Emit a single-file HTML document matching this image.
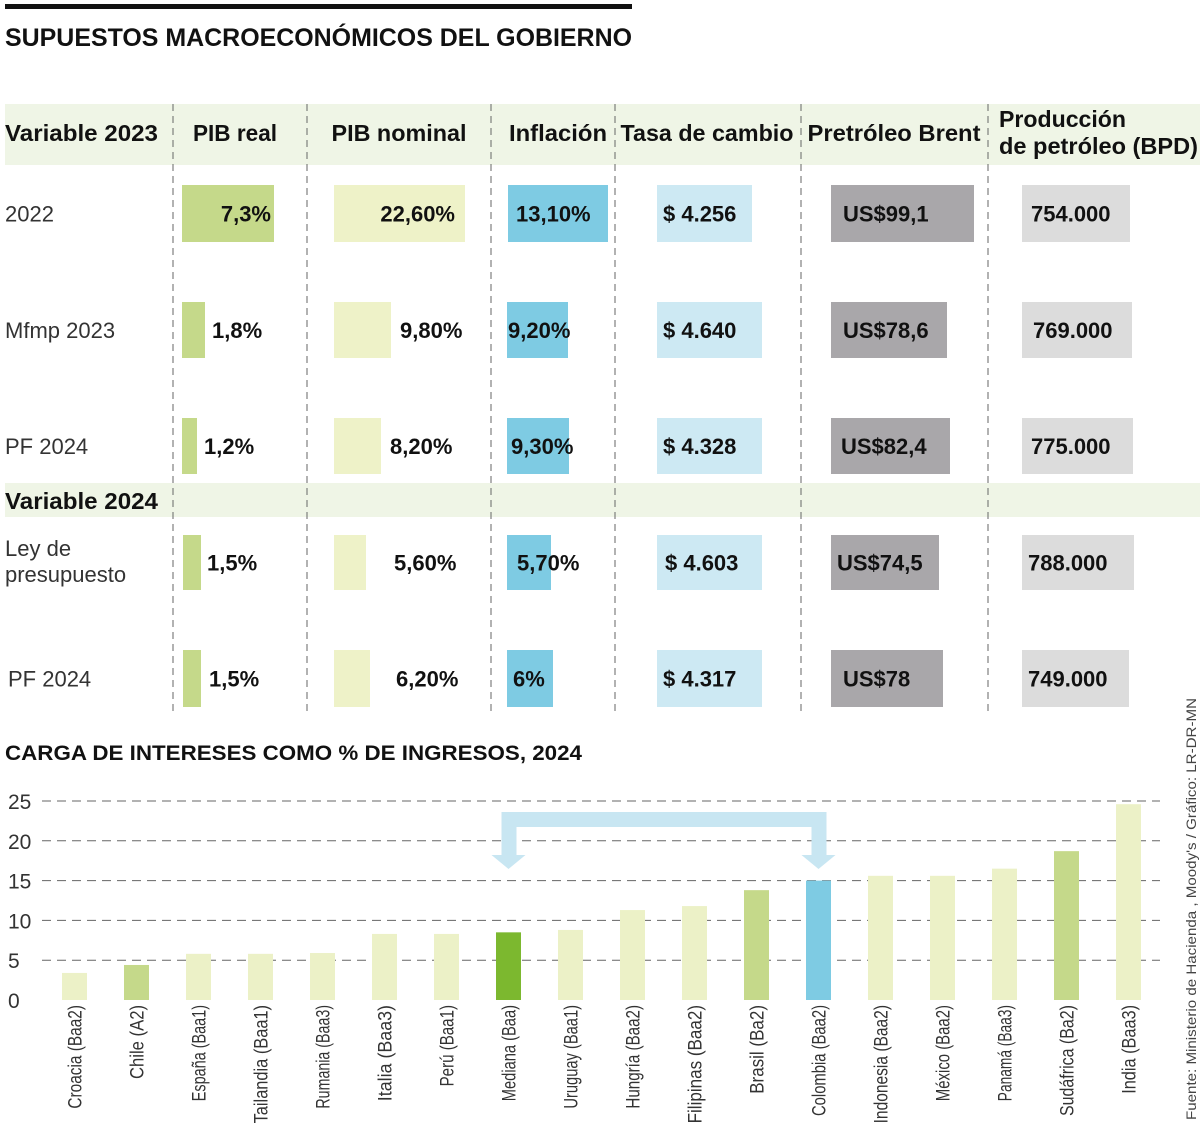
<!DOCTYPE html>
<html><head><meta charset="utf-8">
<style>
html,body{margin:0;padding:0;background:#fff;}
svg{display:block;font-family:"Liberation Sans",sans-serif;}
.b{font-weight:bold;fill:#111;}
.l{fill:#333;}
</style></head>
<body>
<svg id="s" width="1200" height="1124" viewBox="0 0 1200 1124" xmlns="http://www.w3.org/2000/svg">
<rect x="5" y="4" width="627" height="5" fill="#111"/>
<text x="5" y="46" class="b" font-size="25" textLength="627" lengthAdjust="spacingAndGlyphs">SUPUESTOS MACROECONÓMICOS DEL GOBIERNO</text>
<rect x="5" y="104" width="1195" height="61" fill="#eff5e6"/>
<rect x="5" y="483" width="1195" height="34" fill="#eff5e6"/>
<g id="tbl"></g>
<text x="5" y="760" class="b" font-size="21" textLength="577" lengthAdjust="spacingAndGlyphs">CARGA DE INTERESES COMO % DE INGRESOS, 2024</text>
<g id="chart"></g>
<text transform="translate(1196,1120) rotate(-90)" font-size="14" fill="#444" textLength="422" lengthAdjust="spacingAndGlyphs">Fuente: Ministerio de Hacienda , Moody's / Gráfico: LR-DR-MN</text>
</svg>
<script>
const NS="http://www.w3.org/2000/svg";
function mk(parent,tag,attrs,txt){const e=document.createElementNS(NS,tag);for(const k in attrs)e.setAttribute(k,attrs[k]);if(txt!==undefined)e.textContent=txt;parent.appendChild(e);return e;}

// ---------- Table ----------
const tbl=document.getElementById('tbl');
const dividers=[173,307,491,615,801,988];
dividers.forEach(x=>{
  const d=mk(tbl,'line',{x1:x,y1:104,x2:x,y2:712,stroke:'#666','stroke-width':1,'stroke-dasharray':'7,5'});
  
  
});
const headers=[["Variable 2023",5,141,"start",153],["PIB real",235,141,"middle",84],["PIB nominal",399,141,"middle",135],["Inflación",558,141,"middle",98],["Tasa de cambio",707,141,"middle",173],["Pretróleo Brent",894,141,"middle",173]];
headers.forEach(h=>{
  const t=mk(tbl,'text',{x:h[1],y:h[2],'font-size':23,'text-anchor':h[3],class:'b',textLength:h[4],lengthAdjust:'spacingAndGlyphs'},h[0]);
  
  
});
let t=mk(tbl,'text',{x:999,y:127,'font-size':23,class:'b',textLength:127,lengthAdjust:'spacingAndGlyphs'},"Producción");

t=mk(tbl,'text',{x:999,y:154,'font-size':23,class:'b',textLength:199,lengthAdjust:'spacingAndGlyphs'},"de petróleo (BPD)");

t=mk(tbl,'text',{x:5,y:509,'font-size':23,class:'b',textLength:153,lengthAdjust:'spacingAndGlyphs'},"Variable 2024");


const rowLabels=["2022","Mfmp 2023","PF 2024","","PF 2024"];
const rowY=[185,302,418,535,650];
const rowH=[57,56,56,55,57];
const colColors=['#c5d98a','#eef2c8','#7ecbe3','#cde9f3','#a9a7aa','#dcdcdc'];
const cells=[
 [[182,274,"7,3%",271,"end"],[334,465,"22,60%",455,"end"],[508,608,"13,10%",516,"start"],[657,752,"$ 4.256",663,"start"],[831,974,"US$99,1",843,"start"],[1022,1130,"754.000",1031,"start"]],
 [[182,205,"1,8%",212,"start"],[334,391,"9,80%",400,"start"],[507,568,"9,20%",508,"start"],[657,762,"$ 4.640",663,"start"],[831,947,"US$78,6",843,"start"],[1022,1132,"769.000",1033,"start"]],
 [[182,197,"1,2%",204,"start"],[334,381,"8,20%",390,"start"],[507,569,"9,30%",511,"start"],[657,762,"$ 4.328",663,"start"],[831,950,"US$82,4",841,"start"],[1022,1133,"775.000",1031,"start"]],
 [[183,201,"1,5%",207,"start"],[334,366,"5,60%",394,"start"],[507,551,"5,70%",517,"start"],[657,762,"$ 4.603",665,"start"],[831,939,"US$74,5",837,"start"],[1022,1134,"788.000",1028,"start"]],
 [[183,201,"1,5%",209,"start"],[334,370,"6,20%",396,"start"],[507,553,"6%",513,"start"],[657,762,"$ 4.317",663,"start"],[831,943,"US$78",843,"start"],[1022,1129,"749.000",1028,"start"]]
];
rowY.forEach((y,r)=>{
  if(rowLabels[r]){
    const lb=mk(tbl,'text',{x:r===4?8:5,y:y+rowH[r]/2+8,'font-size':22,class:'l'},rowLabels[r]);
    
  }
  cells[r].forEach((c,i)=>{
    const rc=mk(tbl,'rect',{x:c[0],y:y,width:c[1]-c[0],height:rowH[r],fill:colColors[i]});
    
    const tx=mk(tbl,'text',{x:c[3],y:y+rowH[r]/2+8,'font-size':22,class:'b','text-anchor':c[4]},c[2]);
    
  });
});
t=mk(tbl,'text',{x:5,y:556,'font-size':22,class:'l'},"Ley de");

t=mk(tbl,'text',{x:5,y:582,'font-size':22,class:'l'},"presupuesto");


// ---------- Bar chart ----------
const categories=["Croacia (Baa2)","Chile (A2)","España (Baa1)","Tailandia (Baa1)","Rumania (Baa3)","Italia (Baa3)","Perú (Baa1)","Mediana (Baa)","Uruguay (Baa1)","Hungría (Baa2)","Filipinas (Baa2)","Brasil (Ba2)","Colombia (Baa2)","Indonesia (Baa2)","México (Baa2)","Panamá (Baa3)","Sudáfrica (Ba2)","India (Baa3)"];
const values=[3.4,4.4,5.8,5.8,5.9,8.3,8.3,8.5,8.8,11.3,11.8,13.8,15.0,15.6,15.6,16.5,18.7,24.6];
const barKinds=["light","mid","light","light","light","light","light","median","light","light","light","mid","colombia","light","light","light","mid","light"];
const yTicks=[0,5,10,15,20,25];

const chart=document.getElementById('chart');
const kindColor={light:'#ecf1c7',mid:'#c5d98a',median:'#7cb82f',colombia:'#7ecbe3'};
const y0=1000,pxPerUnit=(1000-801)/25;
const yS=v=>y0-v*pxPerUnit;
const xS=i=>74.5+i*62;
const barW=25;

yTicks.forEach(v=>{
  if(v>0){
    const g=mk(chart,'line',{x1:42,x2:1160,y1:yS(v),y2:yS(v),stroke:'#666','stroke-width':1,'stroke-dasharray':'9,6'});
    
  }
  const tl=mk(chart,'text',{x:8,y:yS(v)+8,'font-size':21,fill:'#333'},String(v));
  
});

const ann=mk(chart,'g',{fill:'#c8e6f2'});

const xa=xS(7), xb=xS(12);
mk(ann,'rect',{x:xa-7,y:812,width:xb-xa+14,height:15});
mk(ann,'rect',{x:xa-7,y:812,width:15,height:44});
mk(ann,'rect',{x:xb-7,y:812,width:15,height:44});
mk(ann,'polygon',{points:`${xa-17},855 ${xa+17},855 ${xa},869`});
mk(ann,'polygon',{points:`${xb-17},855 ${xb+17},855 ${xb},869`});

categories.forEach((c,i)=>{
  const cx=xS(i);
  const r=mk(chart,'rect',{x:cx-barW/2,y:yS(values[i]),width:barW,height:y0-yS(values[i]),fill:kindColor[barKinds[i]]});
  
  
  const lb=mk(chart,'text',{transform:`translate(${cx+7},1005) rotate(-90)`,'font-size':19,fill:'#333','text-anchor':'end',textLength:(c.length*7.4).toFixed(1),lengthAdjust:'spacingAndGlyphs'},c);
  
  
});
</script>
</body></html>
